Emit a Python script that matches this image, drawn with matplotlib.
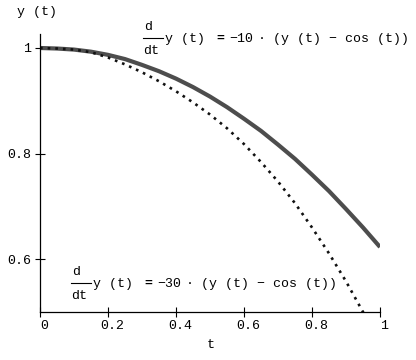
import matplotlib
matplotlib.use("Agg")
import matplotlib.pyplot as plt
import matplotlib.transforms as mtransforms
from matplotlib.lines import Line2D

plt.rcParams['font.family'] = ['Liberation Mono', 'DejaVu Sans Mono']

# values
t = [0.0, 0.05, 0.1, 0.15, 0.2, 0.25, 0.3, 0.35, 0.4, 0.45, 0.5,
     0.55, 0.6, 0.65, 0.7, 0.75, 0.8, 0.85, 0.9, 0.95, 1.0]
y_k10 = [1.000, 0.999, 0.997, 0.993, 0.987, 0.979, 0.968, 0.956, 0.942, 0.926, 0.908,
         0.888, 0.866, 0.843, 0.817, 0.790, 0.760, 0.729, 0.695, 0.660, 0.623]
y_k30 = [1.000, 0.999, 0.997, 0.992, 0.982, 0.969, 0.954, 0.937, 0.918, 0.897, 0.874,
         0.848, 0.818, 0.784, 0.747, 0.706, 0.660, 0.611, 0.558, 0.500, 0.440]

x_ticks = [0, 0.2, 0.4, 0.6, 0.8, 1]
x_labels = ['0', '0.2', '0.4', '0.6', '0.8', '1']
y_ticks = [0.6, 0.8, 1.0]
y_labels = ['0.6', '0.8', '1']

W, H = 416, 360
fig = plt.figure(figsize=(W / 100, H / 100), dpi=100)
ax = fig.add_axes([40 / W, 1 - 312 / H, 340 / W, 278 / H])

ax.plot(t, y_k10, color='#4d4d4d', lw=3.0, solid_capstyle='butt')
ax.plot(t, y_k30, color='#111111', lw=1.9, linestyle=(0, (1, 1.9)),
        dash_capstyle='butt')

ax.set_xlim(0, 1)
ax.set_ylim(0.5, 1.0265)
ax.set_xticks(x_ticks)
ax.set_xticklabels(x_labels)
ax.set_yticks(y_ticks)
ax.set_yticklabels(y_labels)
ax.tick_params(direction='inout', length=7, width=0.8, labelsize=9.5, color='k')
ax.tick_params(axis='x', pad=2)
ax.tick_params(axis='y', pad=3)
for s in ['top', 'right']:
    ax.spines[s].set_visible(False)
for s in ['left', 'bottom']:
    ax.spines[s].set_linewidth(0.9)

# x tick labels sit a little to the right of their ticks
shift = mtransforms.ScaledTranslation(4 / 100, 0, fig.dpi_scale_trans)
for lab in ax.get_xticklabels():
    lab.set_transform(lab.get_transform() + shift)


def px(x, y):
    return x / W, 1 - y / H


fs = 9.5
fig.text(*px(37, 12), 'y (t)', ha='center', va='center', fontsize=fs)
fig.text(*px(211, 345), 't', ha='center', va='center', fontsize=fs)


def equation(X, Y, k):
    # Y is the top of the "d"
    fig.text(*px(X - 21, Y + 4.5), 'd', ha='left', va='center', fontsize=fs)
    fig.text(*px(X - 22, Y + 28.5), 'dt', ha='left', va='center', fontsize=fs)
    x1, y1 = px(X - 22, Y + 15)
    x2, _ = px(X - 2, Y + 15)
    fig.add_artist(Line2D([x1, x2], [y1, y1], transform=fig.transFigure,
                          color='k', lw=0.8))
    fig.text(*px(X, Y + 16.5), 'y (t)', ha='left', va='center', fontsize=fs)
    fig.text(*px(X + 55, Y + 16.5), '=', ha='center', va='center',
             fontsize=fs, fontweight='bold')
    fig.text(*px(X + 64, Y + 16.5), '\u2212%d' % k, ha='left', va='center',
             fontsize=fs)
    fig.text(*px(X + 97, Y + 16.5), '\u00b7', ha='center', va='center',
             fontsize=fs)
    fig.text(*px(X + 108, Y + 16.5), '(y (t) \u2212 cos (t))', ha='left',
             va='center', fontsize=fs)


equation(165, 22.5, 10)
equation(93, 267.5, 30)

fig.savefig('out.png', dpi=100)
